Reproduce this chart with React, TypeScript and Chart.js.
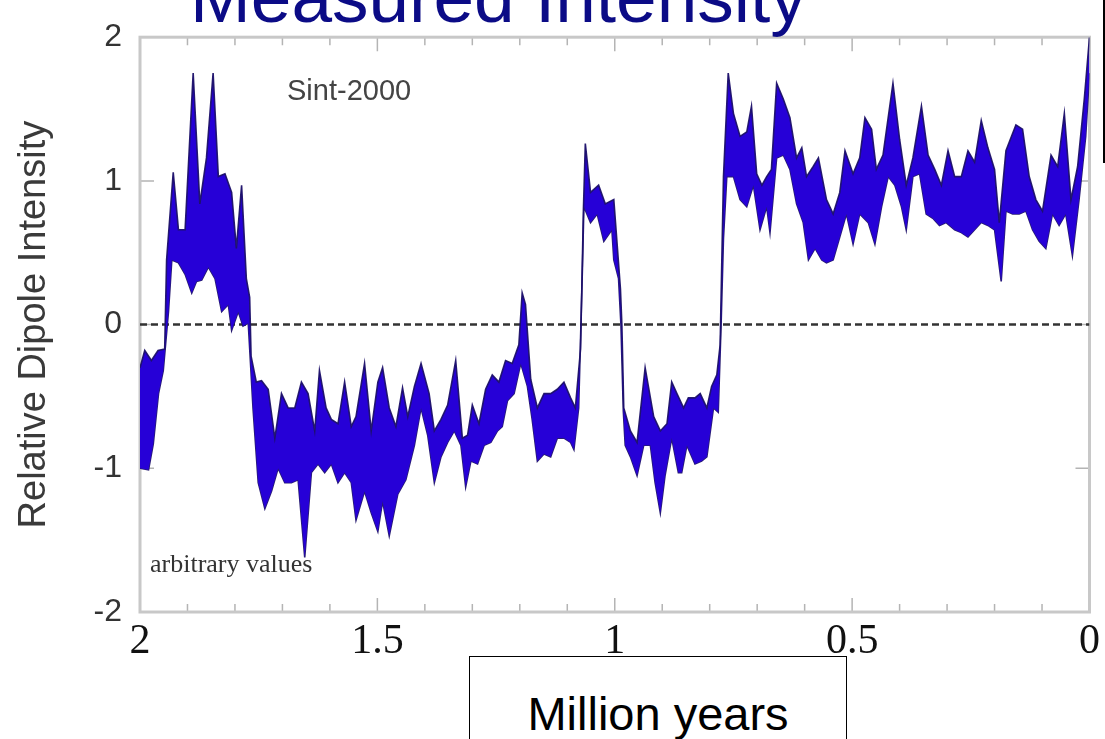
import React, { useEffect, useRef } from "react";
import { Chart, registerables } from "chart.js";

Chart.register(...registerables);

// Age in million years (2 -> 0) and relative dipole intensity, upper edge of the band
const upperAge = [
  2.0, 1.99, 1.976, 1.962, 1.948, 1.944, 1.93, 1.919, 1.905, 1.888, 1.874, 1.86, 1.846, 1.835, 1.821, 1.807,
  1.797, 1.786, 1.776, 1.769, 1.766, 1.755, 1.744, 1.73, 1.716, 1.702, 1.688, 1.674, 1.66, 1.646, 1.632, 1.622,
  1.608, 1.597, 1.583, 1.569, 1.555, 1.545, 1.527, 1.513, 1.499, 1.489, 1.475, 1.461, 1.447, 1.436, 1.422,
  1.408, 1.391, 1.38, 1.366, 1.352, 1.335, 1.321, 1.31, 1.3, 1.286, 1.272, 1.258, 1.244, 1.23, 1.216, 1.202,
  1.195, 1.188, 1.177, 1.163, 1.149, 1.135, 1.121, 1.107, 1.093, 1.083, 1.072, 1.066, 1.062, 1.051, 1.034,
  1.02, 1.002, 0.995, 0.988, 0.985, 0.981, 0.967, 0.953, 0.936, 0.918, 0.904, 0.89, 0.88, 0.869, 0.855, 0.845,
  0.831, 0.82, 0.806, 0.796, 0.785, 0.778, 0.771, 0.761, 0.75, 0.736, 0.722, 0.712, 0.701, 0.69, 0.68, 0.67,
  0.659, 0.645, 0.631, 0.617, 0.606, 0.596, 0.582, 0.571, 0.554, 0.54, 0.526, 0.515, 0.498, 0.484, 0.473,
  0.459, 0.449, 0.435, 0.414, 0.4, 0.386, 0.372, 0.354, 0.34, 0.326, 0.312, 0.298, 0.284, 0.27, 0.256, 0.242,
  0.228, 0.214, 0.2, 0.19, 0.176, 0.155, 0.141, 0.127, 0.113, 0.099, 0.081, 0.067, 0.053, 0.039, 0.025, 0.011,
  0.0,
];
const upperValue = [
  -0.3, -0.18, -0.25, -0.18, -0.17, 0.45, 1.06, 0.66, 0.66, 1.75, 0.84, 1.16, 1.75, 1.03, 1.05, 0.92,
  0.53, 0.97, 0.32, 0.19, -0.22, -0.4, -0.39, -0.45, -0.79, -0.48, -0.58, -0.58, -0.4, -0.48, -0.74, -0.32,
  -0.58, -0.66, -0.69, -0.4, -0.71, -0.64, -0.27, -0.74, -0.4, -0.3, -0.58, -0.71, -0.44, -0.64, -0.43,
  -0.27, -0.48, -0.74, -0.66, -0.56, -0.25, -0.79, -0.77, -0.56, -0.69, -0.45, -0.35, -0.4, -0.25, -0.27, -0.14,
  0.22, 0.14, -0.38, -0.58, -0.48, -0.48, -0.45, -0.4, -0.51, -0.58, -0.17, 0.8, 1.26, 0.92, 0.97,
  0.84, 0.87, 0.56, 0.25, 0.0, -0.58, -0.74, -0.82, -0.3, -0.64, -0.74, -0.69, -0.4, -0.48, -0.58, -0.51,
  -0.51, -0.48, -0.58, -0.43, -0.35, -0.14, 1.03, 1.75, 1.47, 1.31, 1.34, 1.52, 1.05, 0.97, 1.03, 1.08,
  1.68, 1.57, 1.44, 1.16, 1.23, 1.03, 1.1, 1.16, 0.87, 0.77, 0.92, 1.21, 1.05, 1.16, 1.44,
  1.36, 1.08, 1.18, 1.68, 1.29, 0.97, 1.16, 1.52, 1.18, 1.08, 0.97, 1.21, 1.03, 1.03, 1.21, 1.13,
  1.42, 1.23, 1.08, 0.71, 1.21, 1.39, 1.36, 1.03, 0.87, 0.79, 1.18, 1.1, 1.47, 0.87, 1.1, 1.57,
  2.0,
];

// Lower edge of the band
const lowerAge = [
  2.0, 1.982, 1.972, 1.961, 1.951, 1.94, 1.933, 1.919, 1.905, 1.891, 1.881, 1.87, 1.856, 1.842, 1.828, 1.814,
  1.807, 1.793, 1.783, 1.772, 1.762, 1.751, 1.737, 1.723, 1.709, 1.695, 1.681, 1.667, 1.653, 1.639, 1.625,
  1.611, 1.597, 1.583, 1.569, 1.555, 1.545, 1.527, 1.513, 1.499, 1.489, 1.475, 1.457, 1.44, 1.422, 1.408,
  1.394, 1.38, 1.366, 1.352, 1.338, 1.324, 1.314, 1.303, 1.289, 1.275, 1.261, 1.247, 1.237, 1.226, 1.212,
  1.198, 1.184, 1.174, 1.163, 1.149, 1.135, 1.121, 1.107, 1.093, 1.086, 1.076, 1.068, 1.065, 1.051, 1.037,
  1.023, 1.006, 1.002, 0.992, 0.987, 0.982, 0.978, 0.967, 0.953, 0.939, 0.925, 0.915, 0.904, 0.894, 0.88,
  0.866, 0.859, 0.848, 0.831, 0.817, 0.806, 0.792, 0.782, 0.776, 0.771, 0.764, 0.75, 0.736, 0.722, 0.708,
  0.694, 0.68, 0.673, 0.659, 0.645, 0.631, 0.617, 0.603, 0.592, 0.578, 0.564, 0.554, 0.54, 0.526, 0.512,
  0.498, 0.484, 0.466, 0.452, 0.438, 0.424, 0.41, 0.396, 0.386, 0.372, 0.358, 0.344, 0.33, 0.316, 0.302,
  0.284, 0.27, 0.256, 0.242, 0.228, 0.214, 0.2, 0.186, 0.176, 0.162, 0.148, 0.134, 0.12, 0.106, 0.092,
  0.078, 0.064, 0.05, 0.036, 0.022, 0.008, 0.0,
];
const lowerValue = [
  -1.0, -1.01, -0.83, -0.48, -0.32, 0.09, 0.45, 0.43, 0.35, 0.22, 0.3, 0.31, 0.4, 0.32, 0.09, 0.14,
  -0.04, 0.09, -0.01, 0.01, -0.58, -1.1, -1.28, -1.16, -1.0, -1.1, -1.1, -1.08, -1.62, -1.03, -0.97,
  -1.03, -0.97, -1.1, -1.03, -1.1, -1.36, -1.16, -1.31, -1.44, -1.23, -1.47, -1.18, -1.08, -0.84, -0.58,
  -0.77, -1.1, -0.92, -0.82, -0.74, -0.84, -1.13, -0.95, -0.97, -0.84, -0.82, -0.74, -0.71, -0.53, -0.48,
  -0.27, -0.43, -0.66, -0.95, -0.9, -0.92, -0.79, -0.79, -0.82, -0.87, -0.58, 0.4, 0.82, 0.71, 0.77,
  0.58, 0.66, 0.45, 0.32, 0.0, -0.6, -0.84, -0.92, -1.05, -0.84, -0.84, -1.1, -1.31, -1.05, -0.79,
  -1.03, -1.03, -0.84, -0.97, -0.95, -0.92, -0.58, -0.61, 0.0, 0.6, 1.03, 1.03, 0.87, 0.82, 0.97,
  0.66, 0.82, 0.64, 1.16, 1.18, 1.08, 0.84, 0.71, 0.45, 0.53, 0.45, 0.43, 0.45, 0.61, 0.77,
  0.56, 0.77, 0.71, 0.56, 0.82, 1.03, 0.97, 0.82, 0.66, 1.03, 1.05, 0.77, 0.74, 0.69, 0.71,
  0.66, 0.64, 0.61, 0.66, 0.71, 0.69, 0.66, 0.3, 0.79, 0.77, 0.77, 0.79, 0.66, 0.58, 0.53,
  0.77, 0.69, 0.77, 0.48, 0.87, 1.31, 1.75,
];

const zeroLineAge = [2, 0];
const zeroLineValue = [0, 0];

const xMajorTickLabels = ["2", "1.5", "1", "0.5", "0"];
const yTickLabels = ["-2", "-1", "0", "1", "2"];

const frameTicksPlugin = {
  id: "frameTicks",
  beforeDatasetsDraw(chart: any) {
    const { ctx, chartArea, scales } = chart;
    const { left, right, top, bottom } = chartArea;
    const x = scales.x;
    const y = scales.y;
    ctx.save();
    ctx.strokeStyle = "#b4b4b4";
    ctx.lineWidth = 1.5;
    ctx.beginPath();
    x.ticks.forEach((t: any) => {
      const px = x.getPixelForValue(t.value);
      const major = Math.round(t.value * 10) % 5 === 0;
      const len = major ? 14 : 8;
      ctx.moveTo(px, bottom);
      ctx.lineTo(px, bottom - len);
      ctx.moveTo(px, top);
      ctx.lineTo(px, top + len);
    });
    y.ticks.forEach((t: any) => {
      const py = y.getPixelForValue(t.value);
      ctx.moveTo(left, py);
      ctx.lineTo(left + 14, py);
      ctx.moveTo(right, py);
      ctx.lineTo(right - 14, py);
    });
    ctx.stroke();
    ctx.strokeStyle = "#c8c8c8";
    ctx.lineWidth = 3;
    ctx.strokeRect(left, top, right - left, bottom - top);
    ctx.restore();
  },
};

export default function App() {
  const canvasRef = useRef<HTMLCanvasElement | null>(null);

  useEffect(() => {
    if (!canvasRef.current) return;
    const chart = new Chart(canvasRef.current, {
      type: "line",
      data: {
        datasets: [
          {
            label: "Sint-2000 upper",
            data: upperAge.map((a, i) => ({ x: a, y: upperValue[i] })),
            borderColor: "rgba(28,16,105,0.95)",
            borderWidth: 1.6,
            backgroundColor: "rgb(38,0,215)",
            fill: "+1",
            pointRadius: 0,
            tension: 0,
          },
          {
            label: "Sint-2000 lower",
            data: lowerAge.map((a, i) => ({ x: a, y: lowerValue[i] })),
            borderColor: "rgba(28,16,105,0.95)",
            borderWidth: 1.6,
            backgroundColor: "rgb(38,0,215)",
            fill: false,
            pointRadius: 0,
            tension: 0,
          },
          {
            label: "zero",
            data: zeroLineAge.map((a, i) => ({ x: a, y: zeroLineValue[i] })),
            borderColor: "#333333",
            borderWidth: 2.5,
            borderDash: [7, 4],
            fill: false,
            pointRadius: 0,
          },
        ],
      },
      options: {
        animation: false,
        responsive: true,
        maintainAspectRatio: false,
        devicePixelRatio: 1,
        layout: { padding: { top: 32, right: 13, bottom: 0, left: 0 } },
        plugins: {
          legend: { display: false },
          tooltip: { enabled: false },
        },
        scales: {
          x: {
            type: "linear",
            reverse: true,
            min: 0,
            max: 2,
            grid: { display: false, drawTicks: false },
            border: { display: false },
            ticks: {
              stepSize: 0.1,
              autoSkip: false,
              maxRotation: 0,
              minRotation: 0,
              padding: 5,
              color: "#111",
              font: { family: "'Liberation Serif', 'Times New Roman', serif", size: 42 },
              callback: (value: any) => {
                const k = Math.round(Number(value) * 10);
                return k % 5 === 0 ? xMajorTickLabels[(20 - k) / 5] : "";
              },
            },
            afterFit: (scale: any) => {
              scale.height = 127;
            },
          },
          y: {
            type: "linear",
            min: -2,
            max: 2,
            grid: { display: false, drawTicks: false },
            border: { display: false },
            ticks: {
              stepSize: 1,
              padding: 18,
              color: "#333",
              font: { family: "'Liberation Sans', Arial, sans-serif", size: 32 },
              callback: (value: any) => yTickLabels[Math.round(Number(value)) + 2],
            },
            title: {
              display: true,
              text: "Relative Dipole Intensity",
              color: "#3a3a3a",
              font: { family: "'Liberation Sans', Arial, sans-serif", size: 38 },
              padding: { top: 12, bottom: 0 },
            },
            afterFit: (scale: any) => {
              scale.width = 140;
            },
          },
        },
      },
      plugins: [frameTicksPlugin],
    } as any);
    return () => chart.destroy();
  }, []);

  return (
    <div
      style={{
        position: "fixed",
        left: 0,
        top: 0,
        width: 1105,
        height: 739,
        overflow: "hidden",
        background: "#fff",
      }}
    >
      <div style={{ position: "absolute", left: 0, top: 0, width: 1105, height: 739 }}>
        <canvas ref={canvasRef} />
      </div>
      <div
        style={{
          position: "absolute",
          left: 190,
          top: -40,
          fontFamily: "'Liberation Sans', Arial, sans-serif",
          fontSize: 73,
          lineHeight: 1,
          color: "#0b0b86",
          whiteSpace: "nowrap",
        }}
      >
        Measured Intensity
      </div>
      <div
        style={{
          position: "absolute",
          left: 287,
          top: 76,
          fontFamily: "'Liberation Sans', Arial, sans-serif",
          fontSize: 29,
          lineHeight: 1,
          color: "#444",
          whiteSpace: "nowrap",
        }}
      >
        Sint-2000
      </div>
      <div
        style={{
          position: "absolute",
          left: 150,
          top: 551,
          fontFamily: "'Liberation Serif', 'Times New Roman', serif",
          fontSize: 26,
          lineHeight: 1,
          color: "#333",
          whiteSpace: "nowrap",
        }}
      >
        arbitrary values
      </div>
      <div
        style={{
          position: "absolute",
          left: 469,
          top: 656,
          width: 378,
          height: 120,
          boxSizing: "border-box",
          border: "1.5px solid #000",
          background: "#fff",
        }}
      >
        <div
          style={{
            position: "absolute",
            left: 0,
            right: 0,
            top: 33,
            textAlign: "center",
            fontFamily: "'Liberation Sans', Arial, sans-serif",
            fontSize: 47,
            lineHeight: 1,
            color: "#000",
            whiteSpace: "nowrap",
          }}
        >
          Million years
        </div>
      </div>
      <div
        style={{
          position: "absolute",
          left: 1103,
          top: 0,
          width: 2,
          height: 163,
          background: "#000",
        }}
      />
    </div>
  );
}
